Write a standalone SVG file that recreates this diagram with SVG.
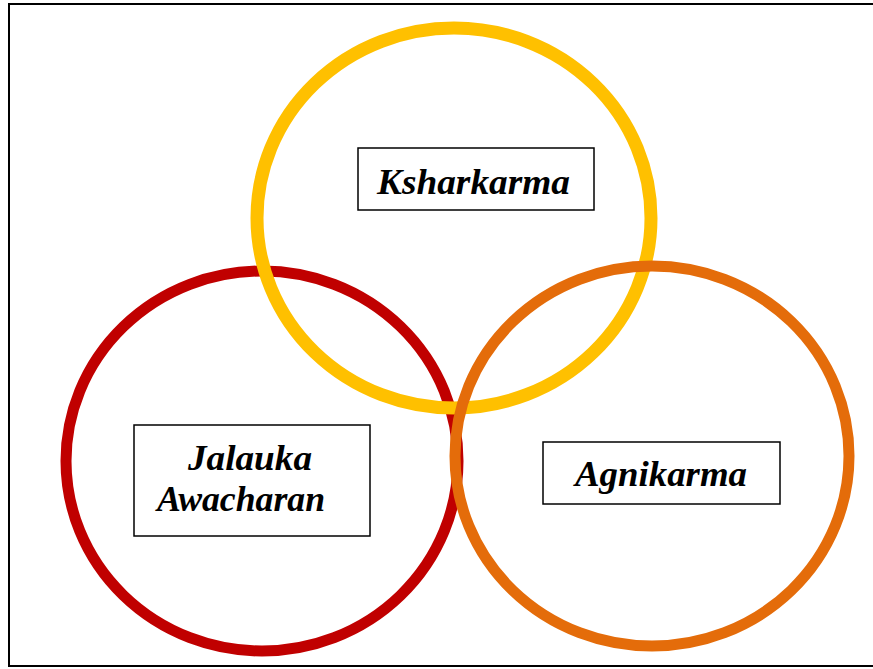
<svg xmlns="http://www.w3.org/2000/svg" width="873" height="669" viewBox="0 0 873 669">
<style>
.ring{fill:none}
.box{fill:#fff;stroke:#000;stroke-width:1.5}
.lbl{font-family:"Liberation Serif","Times New Roman",serif;font-weight:bold;font-style:italic;font-size:36px;fill:#000}
</style>
<rect x="0" y="0" width="873" height="669" fill="#fff"/>
<rect x="9" y="4" width="880" height="662" fill="none" stroke="#000" stroke-width="2"/>
<g id="connectors"></g>
<g id="ring-red"><ellipse class="ring" cx="262" cy="461" rx="196" ry="190" stroke="#C00000" stroke-width="11"/></g>
<g id="ring-yellow"><ellipse class="ring" cx="454" cy="218" rx="197" ry="190" stroke="#FFC000" stroke-width="13"/></g>
<g id="ring-orange"><ellipse class="ring" cx="652" cy="456" rx="197" ry="190" stroke="#E46C0A" stroke-width="11"/></g>
<g id="node-ksharkarma">
<rect class="box" x="358" y="148" width="236" height="62"/>
<text class="lbl" x="377" y="194" textLength="193" lengthAdjust="spacingAndGlyphs">Ksharkarma</text>
</g>
<g id="node-jalauka">
<rect class="box" x="134" y="425" width="236" height="111"/>
<text class="lbl" x="188" y="470" textLength="124" lengthAdjust="spacingAndGlyphs">Jalauka</text>
<text class="lbl" x="157" y="511" textLength="168" lengthAdjust="spacingAndGlyphs">Awacharan</text>
</g>
<g id="node-agnikarma">
<rect class="box" x="543" y="442" width="237" height="62"/>
<text class="lbl" x="575" y="486" textLength="172" lengthAdjust="spacingAndGlyphs">Agnikarma</text>
</g>
</svg>
